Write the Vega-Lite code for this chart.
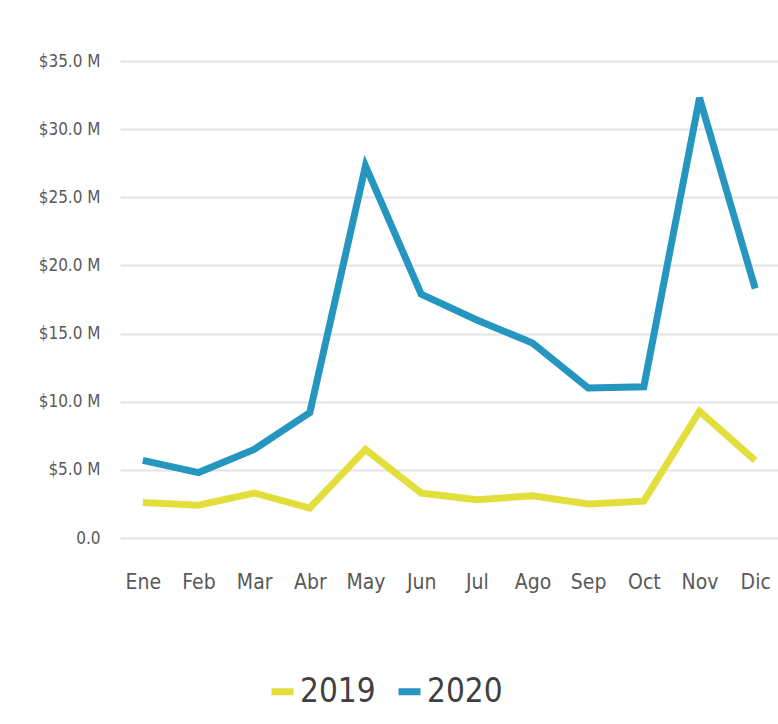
{
  "$schema": "https://vega.github.io/schema/vega-lite/v6.json",
  "autosize": "none",
  "width": 658,
  "height": 477,
  "padding": {"left": 120, "top": 61, "right": 0, "bottom": 186},
  "background": "white",
  "config": {
    "view": {"stroke": null},
    "font": "DejaVu Sans Condensed"
  },
  "data": {
    "values": [
      {"mes": "Ene", "anio": "2019", "ventas": 2.6},
      {"mes": "Feb", "anio": "2019", "ventas": 2.4},
      {"mes": "Mar", "anio": "2019", "ventas": 3.3},
      {"mes": "Abr", "anio": "2019", "ventas": 2.2},
      {"mes": "May", "anio": "2019", "ventas": 6.5},
      {"mes": "Jun", "anio": "2019", "ventas": 3.3},
      {"mes": "Jul", "anio": "2019", "ventas": 2.8},
      {"mes": "Ago", "anio": "2019", "ventas": 3.1},
      {"mes": "Sep", "anio": "2019", "ventas": 2.5},
      {"mes": "Oct", "anio": "2019", "ventas": 2.7},
      {"mes": "Nov", "anio": "2019", "ventas": 9.3},
      {"mes": "Dic", "anio": "2019", "ventas": 5.7},
      {"mes": "Ene", "anio": "2020", "ventas": 5.7},
      {"mes": "Feb", "anio": "2020", "ventas": 4.8},
      {"mes": "Mar", "anio": "2020", "ventas": 6.5},
      {"mes": "Abr", "anio": "2020", "ventas": 9.2},
      {"mes": "May", "anio": "2020", "ventas": 27.3},
      {"mes": "Jun", "anio": "2020", "ventas": 17.9},
      {"mes": "Jul", "anio": "2020", "ventas": 16.0},
      {"mes": "Ago", "anio": "2020", "ventas": 14.3},
      {"mes": "Sep", "anio": "2020", "ventas": 11.0},
      {"mes": "Oct", "anio": "2020", "ventas": 11.1},
      {"mes": "Nov", "anio": "2020", "ventas": 32.3},
      {"mes": "Dic", "anio": "2020", "ventas": 18.3}
    ]
  },
  "mark": {"type": "line", "strokeWidth": 7, "strokeJoin": "miter"},
  "encoding": {
    "x": {
      "field": "mes",
      "type": "ordinal",
      "sort": ["Ene","Feb","Mar","Abr","May","Jun","Jul","Ago","Sep","Oct","Nov","Dic"],
      "scale": {"type": "point", "padding": 0.41},
      "axis": {
        "title": null,
        "domain": false,
        "ticks": false,
        "labelAngle": 0,
        "labelFontSize": 21,
        "labelColor": "#595959",
        "labelPadding": 33,
        "labelFont": "DejaVu Sans Condensed"
      }
    },
    "y": {
      "field": "ventas",
      "type": "quantitative",
      "scale": {"domain": [0, 35], "nice": false},
      "axis": {
        "title": null,
        "values": [0, 5, 10, 15, 20, 25, 30, 35],
        "labelExpr": "datum.value == 0 ? '0.0' : '$' + format(datum.value, '.1f') + ' M'",
        "domain": false,
        "ticks": false,
        "labelPadding": 20,
        "labelFontSize": 17,
        "labelColor": "#595959",
        "labelFont": "DejaVu Sans Condensed",
        "gridColor": "#e3e3e3",
        "gridWidth": 2
      }
    },
    "color": {
      "field": "anio",
      "type": "nominal",
      "scale": {"domain": ["2019", "2020"], "range": ["#e2df3c", "#2496c0"]},
      "legend": {
        "title": null,
        "orient": "none",
        "legendX": 146,
        "legendY": 614,
        "direction": "horizontal",
        "symbolType": "stroke",
        "symbolSize": 484,
        "symbolStrokeWidth": 7,
        "labelFontSize": 33,
        "labelColor": "#404040",
        "labelFont": "DejaVu Sans Condensed",
        "labelOffset": 1,
        "columnPadding": 8
      }
    }
  }
}
